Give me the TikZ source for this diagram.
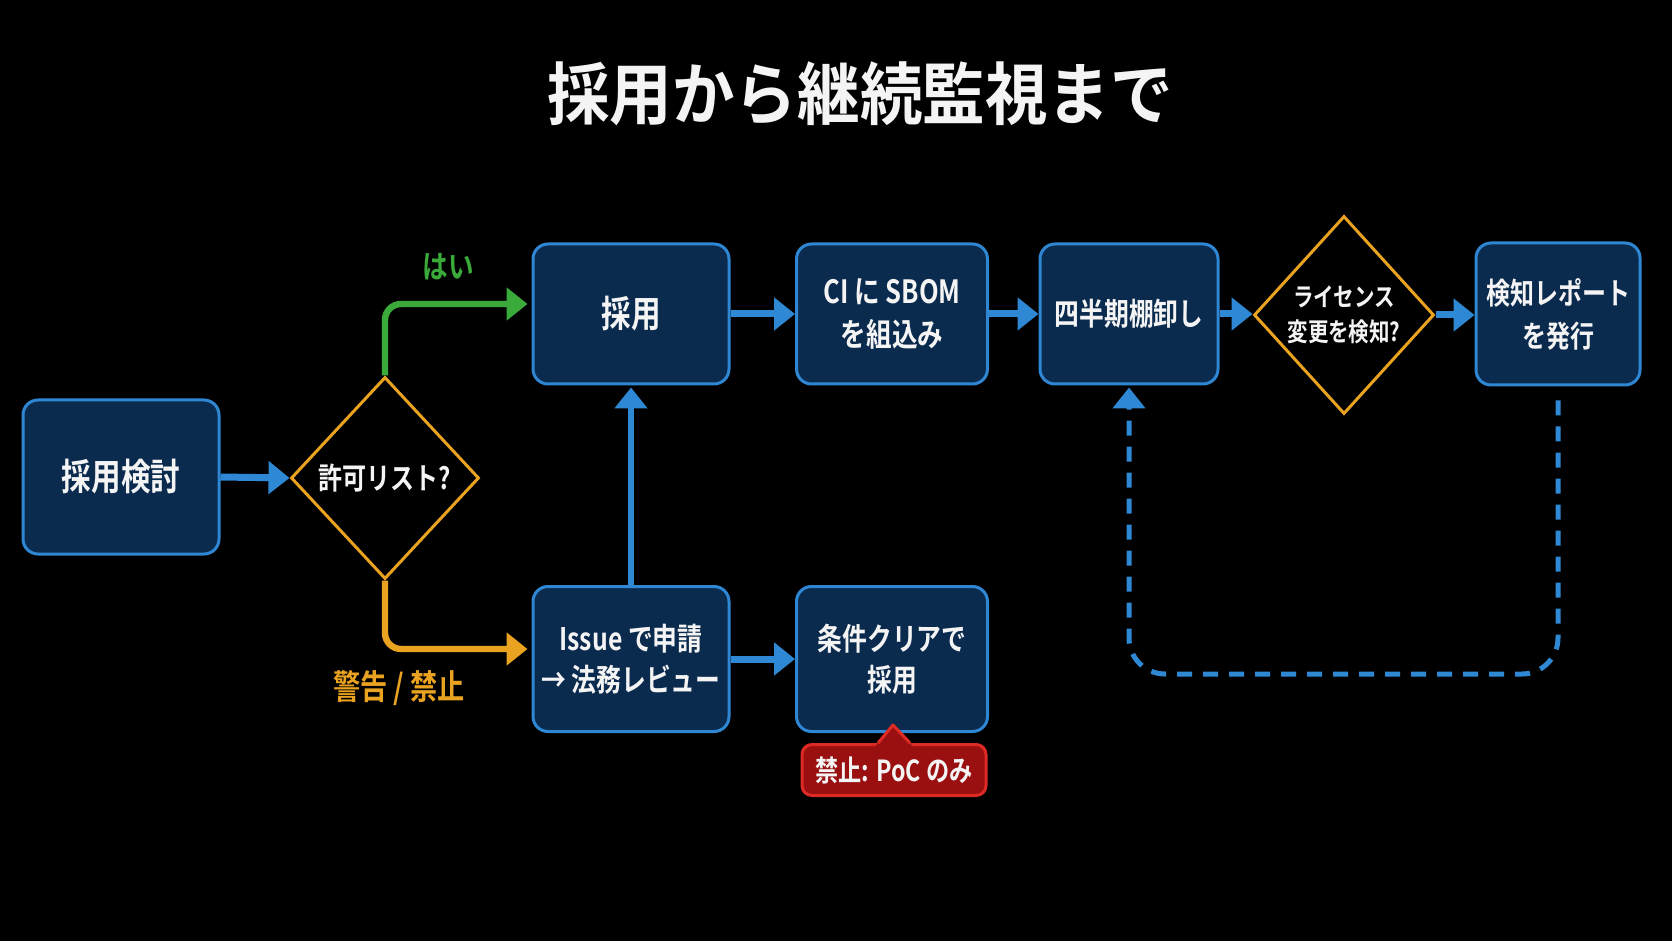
\documentclass[tikz,border=0pt]{standalone}
\usepackage{fontspec}
\newfontfamily\jp{Noto Sans CJK JP Bold}[FakeStretch=0.8]
\newfontfamily\jpt{Noto Sans CJK JP Bold}[FakeStretch=0.92]
\usetikzlibrary{arrows.meta,shapes.geometric,calc}
\definecolor{bfill}{HTML}{0B2B4E}
\definecolor{bline}{HTML}{2F87D3}
\definecolor{ablue}{HTML}{2F88D4}
\definecolor{ygreen}{HTML}{3AAA3A}
\definecolor{orng}{HTML}{E9A321}
\definecolor{rfill}{HTML}{9A1010}
\definecolor{rline}{HTML}{DD2A24}
\definecolor{wtxt}{HTML}{F4F4F4}
\tikzset{
  box/.style={draw=bline, line width=1.5pt, fill=bfill, rounded corners=7.5pt,
    text=wtxt, align=center, inner sep=0pt},
  dia/.style={diamond, draw=orng, line width=1.5pt, inner sep=0pt},
  txt/.style={text=wtxt, align=center, inner sep=0pt},
  arr/.style={draw=ablue, line width=3.5pt, -{Triangle[length=10.5pt,width=16pt]}},
  garr/.style={draw=ygreen, line width=3.2pt, rounded corners=8pt, -{Triangle[length=10.5pt,width=16pt]}},
  oarr/.style={draw=orng, line width=3.2pt, rounded corners=8pt, -{Triangle[length=10.5pt,width=16pt]}},
  darr/.style={draw=ablue, line width=2.5pt, dash pattern=on 7.5pt off 5.5pt, rounded corners=18pt,
    -{Triangle[length=10.5pt,width=16pt]}},
  callout/.style={draw=rline, line width=1.5pt, fill=rfill, rounded corners=5pt, text=wtxt,
    inner sep=0pt, minimum width=92pt, minimum height=25.5pt, font=\jp\fontsize{14.5}{17}\selectfont}
}
\begin{document}
\begin{tikzpicture}[x=0.5pt,y=-0.5pt]
\fill[black] (0,0) rectangle (1672,941);
\useasboundingbox (0,0) rectangle (1672,941);

\node[txt, font=\jpt\fontsize{34}{40}\selectfont] (title) at (860,94) {採用から継続監視まで};

% top row
\node[box, minimum width=98pt, minimum height=77pt, font=\jp\fontsize{18.5}{22}\selectfont] (a) at (121,477) {採用検討};
\node[dia, minimum width=94pt, minimum height=101pt] (d1) at (385,478) {};
\node[txt, font=\jp\fontsize{15}{20}\selectfont] (d1t) at (d1) {許可リスト?};

\node[box, minimum width=98pt, minimum height=70pt, font=\jp\fontsize{18.5}{22}\selectfont] (b) at (631,314) {採用};
\node[box, minimum width=95.5pt, minimum height=70pt, font=\jp\fontsize{16}{21.5}\selectfont] (c) at (892,314) {CI に SBOM\\を組込み};
\node[box, minimum width=89pt, minimum height=70pt, font=\jp\fontsize{15.5}{21.5}\selectfont] (q) at (1129,314) {四半期棚卸し};
\node[dia, minimum width=90pt, minimum height=99pt] (d2) at (1344,315) {};
\node[txt, font=\jp\fontsize{12.8}{17.5}\selectfont] (d2t) at (d2) {ライセンス\\変更を検知?};
\node[box, minimum width=82pt, minimum height=71pt, font=\jp\fontsize{15}{21.5}\selectfont] (r) at (1558,314) {検知レポート\\を発行};

% bottom row
\node[box, minimum width=98pt, minimum height=72.5pt, font=\jp\fontsize{15.5}{20.5}\selectfont] (i) at (631,659) {Issue で申請\\→ 法務レビュー};
\node[box, minimum width=95.5pt, minimum height=72.5pt, font=\jp\fontsize{15.5}{20.5}\selectfont] (k) at (892,659) {条件クリアで\\採用};

% callout
\node[callout] (poc) at (894,770) {禁止: PoC のみ};
\coordinate (pl) at ($(poc.north)+(-16,0)$);
\coordinate (pr) at ($(poc.north)+(16,0)$);
\coordinate (pa) at ($(k.south)+(1,-8)$);
\fill[rfill] ($(pl)+(-3,4)$) -- (pa) -- ($(pr)+(3,4)$) -- cycle;
\draw[rline, line width=1.5pt, line join=round] (pl) -- (pa) -- (pr);

% labels
\node[txt, text=ygreen, font=\jp\fontsize{16}{18}\selectfont] (yes) at (448,267) {はい};
\node[txt, text=orng, font=\jp\fontsize{17}{19}\selectfont] (warn) at (399,688) {警告 / 禁止};

% connectors
\draw[arr] (a.east) -- (d1.west);
\draw[garr, shorten >=2pt] (d1.north) |- ([yshift=5pt]b.west);
\draw[oarr, shorten >=2pt] (d1.south) |- ([yshift=5pt]i.west);
\draw[arr] (b.east) -- (c.west);
\draw[arr] (c.east) -- (q.west);
\draw[arr] (q.east) -- (q.east -| d2.west);
\draw[arr] (d2.east) -- (d2.east -| r.west);
\draw[arr, line width=3pt, shorten >=1pt] (i.north) -- (b.south);
\draw[arr] (i.east) -- (k.west);
\coordinate (lp) at (0,674);
\draw[darr, shorten <=7pt, shorten >=1pt] (r.south) -- (r.south |- lp) -- (q.south |- lp) -- (q.south);
\end{tikzpicture}
\end{document}
